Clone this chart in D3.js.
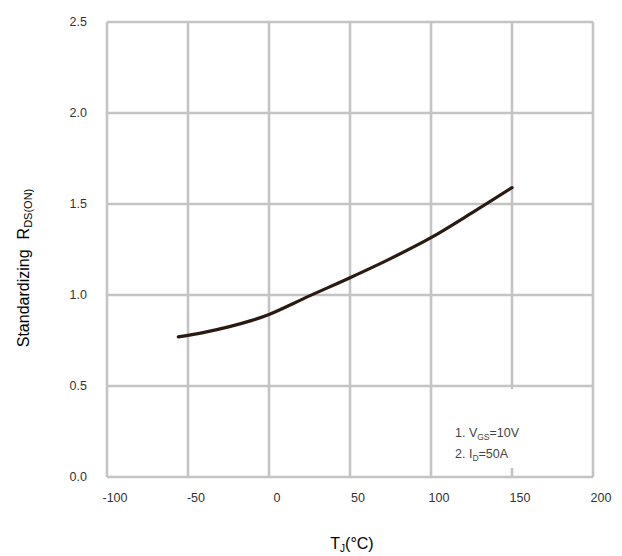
<!DOCTYPE html>
<html>
<head>
<meta charset="utf-8">
<script src="https://cdn.jsdelivr.net/npm/d3@7"></script>
<style>
  html, body { margin: 0; padding: 0; background: #fff; }
  svg { display: block; }
</style>
</head>
<body>
<svg id="chart" width="622" height="556"></svg>
<script>
// Data
const xTicks = [-100, -50, 0, 50, 100, 150, 200];
const yTicks = [0.0, 0.5, 1.0, 1.5, 2.0, 2.5];
const tempC = [-56, -40, -25, -10, 0, 25, 50, 75, 100, 125, 150];
const rdsNorm = [0.77, 0.795, 0.825, 0.862, 0.893, 0.995, 1.095, 1.20, 1.315, 1.45, 1.59];
const notes = [
  { prefix: "1. V", sub: "GS", suffix: "=10V" },
  { prefix: "2. I", sub: "D", suffix: "=50A" }
];

(function () {
const svg = d3.select("#chart");
const pLeft = 107, pRight = 593, pTop = 22, pBottom = 477;

const x = d3.scaleLinear().domain([-100, 200]).range([pLeft, pRight]);
const y = d3.scaleLinear().domain([0, 2.5]).range([pBottom, pTop]);

const gridColor = "#c4c4c4";
const g = svg.append("g");

// Grid lines
g.selectAll("line.vx").data(xTicks).enter().append("line")
  .attr("x1", d => x(d)).attr("x2", d => x(d))
  .attr("y1", pTop).attr("y2", pBottom)
  .attr("stroke", gridColor).attr("stroke-width", 2.6);
g.selectAll("line.hy").data(yTicks).enter().append("line")
  .attr("x1", pLeft).attr("x2", pRight)
  .attr("y1", d => y(d)).attr("y2", d => y(d))
  .attr("stroke", gridColor).attr("stroke-width", 2.6);

// Legend background (covers grid)
svg.append("rect")
  .attr("x", x(100) + 12).attr("y", y(0.5) + 3)
  .attr("width", x(200) - x(100) - 24).attr("height", y(0) - y(0.5) - 12)
  .attr("fill", "#fff");

// Tick labels
svg.selectAll("text.yt").data(yTicks).enter().append("text")
  .attr("x", 87).attr("y", d => y(d) + 4)
  .attr("text-anchor", "end")
  .attr("font-family", "Arial, Liberation Sans, sans-serif")
  .attr("font-size", 12.5).attr("fill", "#333")
  .text(d => d.toFixed(1));
svg.selectAll("text.xt").data(xTicks).enter().append("text")
  .attr("x", d => x(d) + 8).attr("y", 502)
  .attr("text-anchor", "middle")
  .attr("font-family", "Arial, Liberation Sans, sans-serif")
  .attr("font-size", 12.5).attr("fill", "#333")
  .text(d => d);

// Curve
const line = d3.line().x((d, i) => x(tempC[i])).y(d => y(d)).curve(d3.curveCatmullRom);
svg.append("path")
  .attr("d", line(rdsNorm))
  .attr("fill", "none").attr("stroke", "#2b1a12")
  .attr("stroke-width", 3.2).attr("stroke-linecap", "round");

// Legend text
const legend = svg.selectAll("text.lg").data(notes).enter().append("text")
  .attr("x", 455).attr("y", (d, i) => 437 + i * 21)
  .attr("font-family", "Arial, Liberation Sans, sans-serif")
  .attr("font-size", 12.5).attr("fill", "#444");
legend.append("tspan").text(d => d.prefix);
legend.append("tspan").attr("font-size", 8.5).attr("dy", 3).text(d => d.sub);
legend.append("tspan").attr("dy", -3).text(d => d.suffix);

// Axis titles
const xt = svg.append("text")
  .attr("x", 352).attr("y", 549)
  .attr("text-anchor", "middle")
  .attr("font-family", "Arial, Liberation Sans, sans-serif")
  .attr("font-size", 16).attr("fill", "#000");
xt.append("tspan").text("T");
xt.append("tspan").attr("font-size", 10).attr("dy", 3).text("J");
xt.append("tspan").attr("dy", -3).text("(°C)");

const yt = svg.append("text")
  .attr("transform", "translate(29,268) rotate(-90)")
  .attr("text-anchor", "middle")
  .attr("font-family", "Arial, Liberation Sans, sans-serif")
  .attr("font-size", 16).attr("fill", "#000");
yt.append("tspan").text("Standardizing");
yt.append("tspan").attr("dx", 10).text("R");
yt.append("tspan").attr("font-size", 11).attr("dy", 3).text("DS(ON)");
})();
</script>
</body>
</html>
